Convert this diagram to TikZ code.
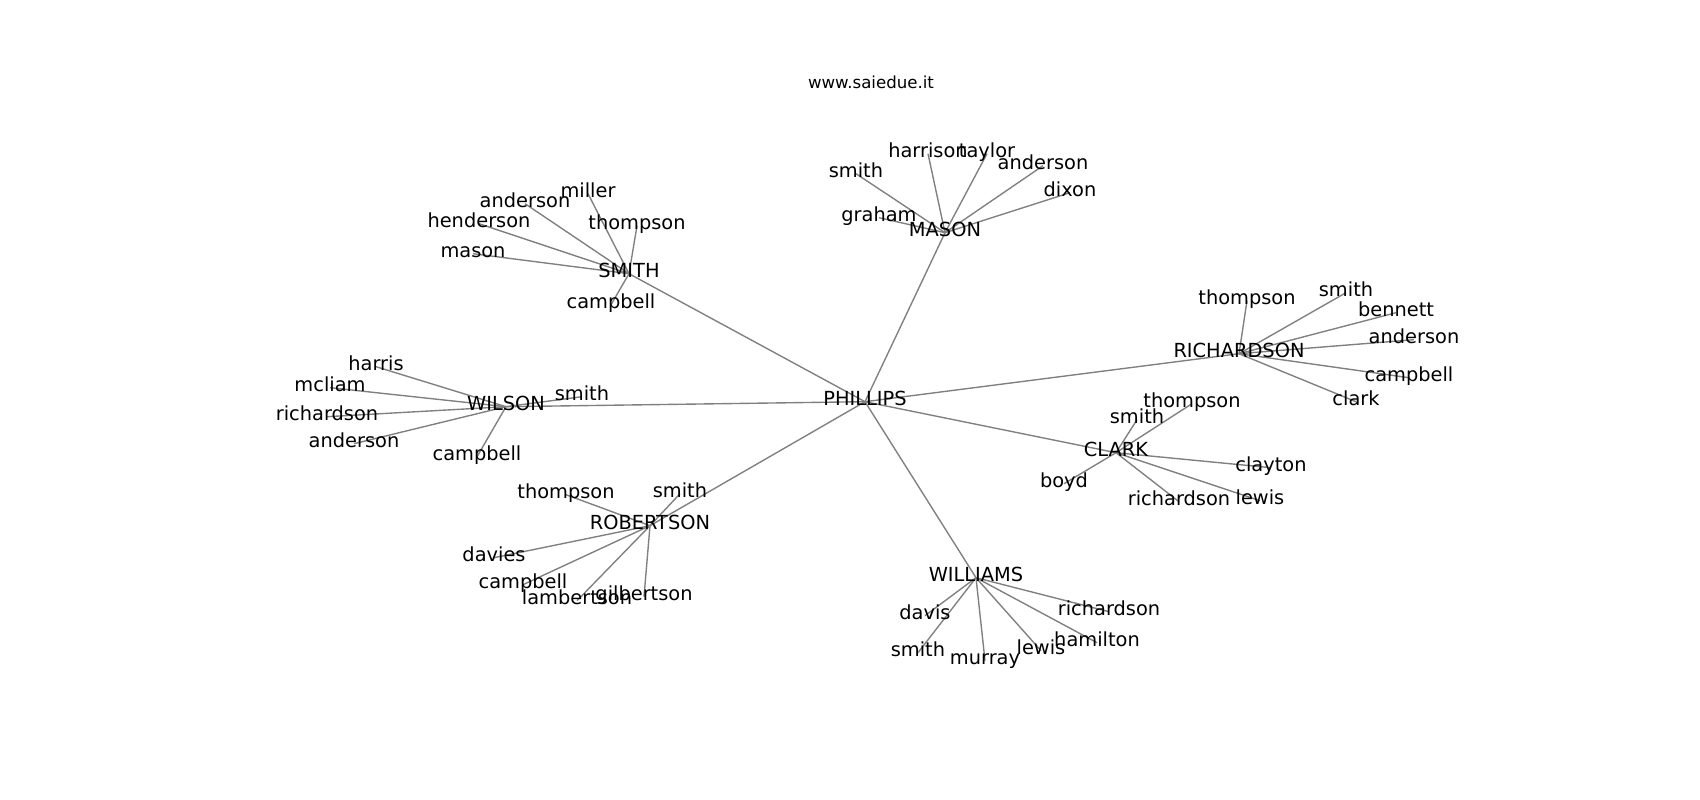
\documentclass[tikz,border=0pt]{standalone}
\usepackage{fontspec}
\setmainfont{DejaVu Sans}
\usepackage{tikz}
\usetikzlibrary{backgrounds}
\tikzstyle{hub} = [inner sep=0pt, text height=0.76em, text depth=0.208em,
    font=\fontsize{14}{16}\selectfont]
\tikzstyle{leaf} = [hub]
\tikzstyle{link} = [draw=gray, line width=1pt]
% leaves of one hub, each with its edge under the labels
\newcommand{\hubleaves}[2]{%
  \foreach \n/\x/\y in {#2} {
    \node [leaf] (#1-\n) at (\x,\y) {\n};
    \begin{scope}[on background layer]
      \draw [link] (#1.center) -- (#1-\n.center);
    \end{scope}
  }}

\begin{document}
\begin{tikzpicture}[x=0.01in, y=-0.01in]
    \useasboundingbox (0,0) rectangle (1700,800);
    \node [anchor=base, inner sep=0pt, font=\fontsize{12}{14}\selectfont] (title) at (871,88.7) {www.saiedue.it};
    \begin{scope}[yshift=-0.027in]
    % We start by placing the hubs
    \node [hub] (PHILLIPS) at (865,399) {PHILLIPS};
    \node [hub] (SMITH) at (629,271) {SMITH};
    \node [hub] (MASON) at (945,230) {MASON};
    \node [hub] (RICHARDSON) at (1239,351) {RICHARDSON};
    \node [hub] (WILSON) at (506,404) {WILSON};
    \node [hub] (CLARK) at (1116,450) {CLARK};
    \node [hub] (ROBERTSON) at (650,523) {ROBERTSON};
    \node [hub] (WILLIAMS) at (976,575) {WILLIAMS};
    % every hub hangs on PHILLIPS
    \begin{scope}[on background layer]
    \foreach \h in {SMITH,MASON,RICHARDSON,WILSON,CLARK,ROBERTSON,WILLIAMS}
        \draw [link] (PHILLIPS.center) -- (\h.center);
    \end{scope}
    % Then the leaves round each hub
    \hubleaves{SMITH}{miller/588/191, anderson/525/201, henderson/479/221,
        thompson/637/223, mason/473/251, campbell/611/302}
    \hubleaves{MASON}{smith/856/171, harrison/928/151, taylor/987/151,
        anderson/1043/163, dixon/1070/190, graham/879/215}
    \hubleaves{RICHARDSON}{thompson/1247/298, smith/1346/290, bennett/1396/310,
        anderson/1414/337, campbell/1409/375, clark/1356/399}
    \hubleaves{WILSON}{harris/376/364, mcliam/330/385, richardson/327/414,
        anderson/354/441, campbell/477/454, smith/582/394}
    \hubleaves{CLARK}{thompson/1192/401, smith/1137/417, clayton/1271/465,
        boyd/1064/481, richardson/1179/499, lewis/1260/498}
    \hubleaves{ROBERTSON}{thompson/566/492, smith/680/491, davies/494/555,
        campbell/523/582, lambertson/577/598, gilbertson/644/594}
    \hubleaves{WILLIAMS}{davis/925/613, smith/918/650, murray/985/658,
        lewis/1041/648, hamilton/1097/640, richardson/1109/609}
    \end{scope}
\end{tikzpicture}
\end{document}
